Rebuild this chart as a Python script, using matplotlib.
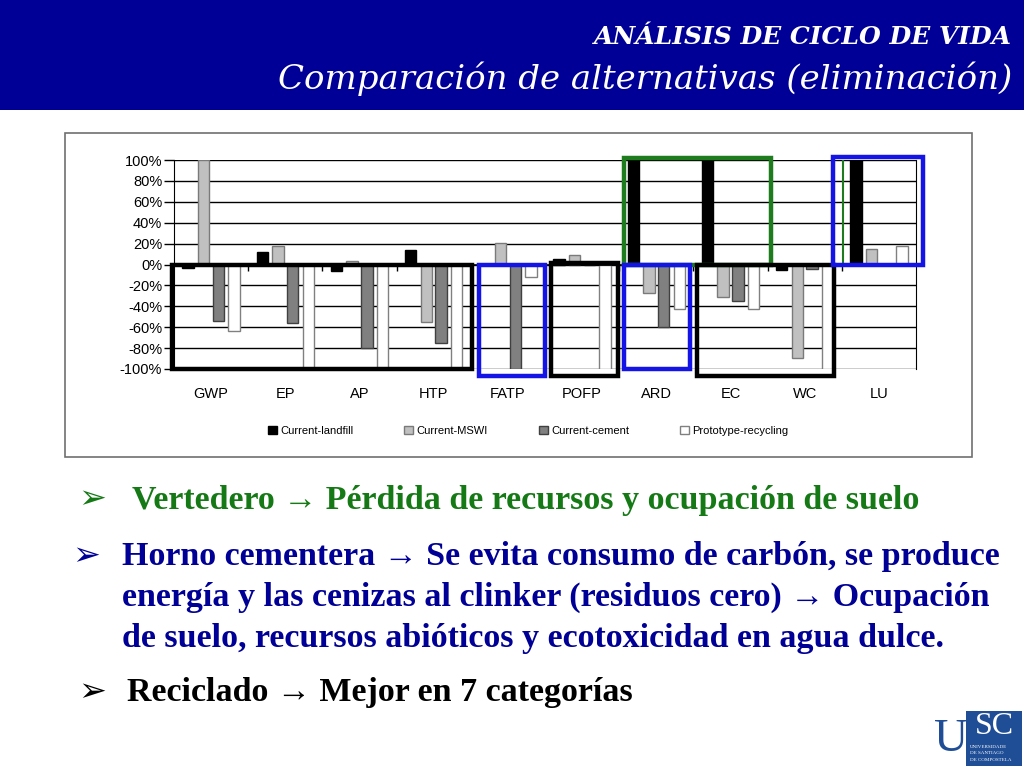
import matplotlib
matplotlib.use("Agg")
import matplotlib.pyplot as plt
import matplotlib.patches as mpatches
import numpy as np

# --- Datos ---
CATEGORIES = ["GWP", "EP", "AP", "HTP", "FATP", "POFP", "ARD", "EC", "WC", "LU"]
SERIES = ["Current-landfill", "Current-MSWI", "Current-cement", "Prototype-recycling"]
LANDFILL = [-3, 12, -6, 14, 0, 5, 100, 100, -5, 100]
MSWI = [100, 18, 3, -55, 21, 9, -27, -31, -89, 15]
CEMENT = [-54, -56, -80, -75, -100, 0, -60, -35, -4, 0]
RECYCLING = [-64, -100, -100, -100, -12, -100, -43, -43, -100, 18]
Y_TICKS = [100, 80, 60, 40, 20, 0, -20, -40, -60, -80, -100]

# cajas de resaltado: (x0, x1, y0, y1, color) en unidades de categoria / %
HIGHLIGHTS = [
    (-0.03, 4.02, -100, 0, "black"),
    (4.11, 5.0, -107, 0, "#1414E6"),
    (5.08, 5.98, -107, 1, "black"),
    (6.06, 8.05, 0, 102, "#1E7B1E"),
    (6.06, 6.95, -100, 0, "#1414E6"),
    (7.05, 8.9, -107, 0, "black"),
    (8.88, 10.1, 0, 103, "#1414E6"),
]

W, H = 1024, 768
fig = plt.figure(figsize=(W / 100, H / 100), dpi=100)
fig.patch.set_facecolor("white")

# capa de fondo en pixeles (cabecera, marco, textos)
bg = fig.add_axes([0, 0, 1, 1], zorder=0)
bg.set_xlim(0, W)
bg.set_ylim(H, 0)
bg.axis("off")

bg.add_patch(mpatches.Rectangle((0, 0), W, 110, color="#000096", lw=0))
bg.text(1012, 37, "ANÁLISIS DE CICLO DE VIDA", color="white", ha="right", va="center",
        family="DejaVu Serif", fontsize=18, fontweight="bold", style="italic")
bg.text(1012, 79, "Comparación de alternativas (eliminación)", color="white", ha="right",
        va="center", family="DejaVu Serif", fontsize=24.5, style="italic")

# marco de la imagen del grafico
bg.add_patch(mpatches.Rectangle((65, 133), 907, 324, fill=False, ec="#707070", lw=1.2))

# --- Grafico de barras ---
ax = fig.add_axes([174 / W, 1 - 369 / H, (916 - 174) / W, (369 - 160) / H], zorder=2)
ax.patch.set_alpha(0)
x = np.arange(len(CATEGORIES)) + 0.5
bw = 0.155
offsets = [-0.31, -0.10, 0.10, 0.31]
styles = [
    dict(color="black", edgecolor="black"),
    dict(color="#C0C0C0", edgecolor="#7A7A7A"),
    dict(color="#808080", edgecolor="#404040"),
    dict(color="white", edgecolor="#808080"),
]
handles = []
for vals, off, st, name in zip([LANDFILL, MSWI, CEMENT, RECYCLING], offsets, styles, SERIES):
    b = ax.bar(x + off, vals, width=bw, linewidth=1, label=name, zorder=3, **st)
    handles.append(b)

ax.set_xlim(0, len(CATEGORIES))
ax.set_ylim(-100, 100)
ax.set_yticks(Y_TICKS)
ax.set_yticklabels([f"{v}%" for v in Y_TICKS], family="Liberation Sans", fontsize=10.5)
ax.yaxis.grid(True, color="black", lw=1)
ax.set_axisbelow(True)
ax.tick_params(axis="y", length=7, width=1, pad=1.5)
ax.set_xticks(x)
ax.set_xticklabels(CATEGORIES, family="Liberation Sans", fontsize=10.5)
ax.tick_params(axis="x", length=0, pad=13)
for s in ["top", "bottom"]:
    ax.spines[s].set_visible(False)
ax.spines["left"].set_color("black")
ax.spines["right"].set_color("black")
ax.axhline(0, color="black", lw=1.2, zorder=4)
ax.vlines(np.arange(1, len(CATEGORIES)), -6, 0, color="black", lw=1, zorder=4)

for x0, x1, y0, y1, c in HIGHLIGHTS:
    ax.add_patch(mpatches.Rectangle((x0, y0), x1 - x0, y1 - y0, fill=False, ec=c,
                                    lw=3.2, zorder=6, clip_on=False))
ax.vlines(9.02, 0, 100, color="#1E7B1E", lw=1.5, zorder=5)

leg = ax.legend(handles=handles, ncol=4, loc="center", bbox_to_anchor=(0.516, 1 - 431 / H),
                bbox_transform=fig.transFigure, frameon=False, handlelength=0.8,
                handleheight=0.8, handletextpad=0.3, columnspacing=4.6,
                prop=dict(family="Liberation Sans", size=8))

# --- Textos de la diapositiva ---
green = "#157A15"
blue = "#000096"
bullet_kw = dict(family="DejaVu Sans", fontsize=24, va="center")
text_kw = dict(family="Liberation Serif", fontsize=24.5, fontweight="bold", va="center")

bg.text(78, 499, "➢", color=green, **bullet_kw)
bg.text(132, 500, "Vertedero → Pérdida de recursos y ocupación de suelo", color=green, **text_kw)

bg.text(72, 556, "➢", color=blue, **bullet_kw)
lines = ["Horno cementera → Se evita consumo de carbón, se produce",
         "energía y las cenizas al clinker (residuos cero) → Ocupación",
         "de suelo, recursos abióticos y ecotoxicidad en agua dulce."]
for i, ln in enumerate(lines):
    bg.text(122, 557 + i * 40.5, ln, color=blue, **text_kw)

bg.text(78, 692, "➢", color="black", **bullet_kw)
bg.text(127, 693, "Reciclado → Mejor en 7 categorías", color="black", **text_kw)

# logo USC
usc = "#1F4E96"
bg.text(951, 740, "U", color=usc, ha="center", va="center", family="Liberation Serif",
        fontsize=34)
bg.add_patch(mpatches.Rectangle((966, 711), 56, 55, color=usc, lw=0))
bg.text(994, 727, "SC", color="white", ha="center", va="center", family="Liberation Serif",
        fontsize=23)
for i, t in enumerate(["UNIVERSIDADE", "DE SANTIAGO", "DE COMPOSTELA"]):
    bg.text(970, 747 + i * 6.5, t, color="white", ha="left", va="center",
            family="Liberation Serif", fontsize=3.6)

fig.savefig("out.png", dpi=100)
